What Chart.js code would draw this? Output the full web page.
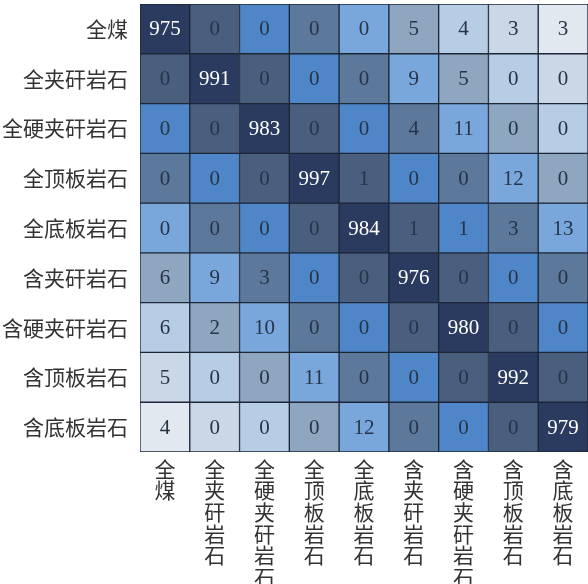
<!DOCTYPE html>
<html>
<head>
<meta charset="utf-8">
<script src="https://cdn.jsdelivr.net/npm/chart.js@4.4.0/dist/chart.umd.min.js"></script>
<style>
    html, body { margin: 0; padding: 0; background: #fff; }
    #wrap { width: 588px; height: 584px; }
</style>
</head>
<body>
<div id="wrap"><canvas id="chart"></canvas></div>
<script>
// categories (rows = true class, columns = predicted class)
var classes = ['全煤', '全夹矸岩石', '全硬夹矸岩石', '全顶板岩石', '全底板岩石',
               '含夹矸岩石', '含硬夹矸岩石', '含顶板岩石', '含底板岩石'];

// confusion matrix counts, one row per class
var row0 = [975, 0, 0, 0, 0, 5, 4, 3, 3];
var row1 = [0, 991, 0, 0, 0, 9, 5, 0, 0];
var row2 = [0, 0, 983, 0, 0, 4, 11, 0, 0];
var row3 = [0, 0, 0, 997, 1, 0, 0, 12, 0];
var row4 = [0, 0, 0, 0, 984, 1, 1, 3, 13];
var row5 = [6, 9, 3, 0, 0, 976, 0, 0, 0];
var row6 = [6, 2, 10, 0, 0, 0, 980, 0, 0];
var row7 = [5, 0, 0, 11, 0, 0, 0, 992, 0];
var row8 = [4, 0, 0, 0, 12, 0, 0, 0, 979];
var counts = [row0, row1, row2, row3, row4, row5, row6, row7, row8];

// cell colour depends on distance from the diagonal
var bandColors = ['#2b3a5f', '#4a5f7e', '#4f86c8', '#5c789b', '#79a7db',
                  '#8fa6c1', '#b7cce5', '#cad7e6', '#e2e8f0'];

var cjkFont = '"Noto Sans CJK SC", sans-serif';
var numFont = '"Liberation Serif", "DejaVu Serif", serif';

var datasets = counts.map(function (row, r) {
    return {
        label: classes[r],
        data: row.map(function () { return [r, r + 1]; }),
        backgroundColor: row.map(function (v, c) { return bandColors[Math.abs(c - r)]; }),
        borderColor: '#1c2738',
        borderWidth: 1,
        borderSkipped: false,
        grouped: false,
        barPercentage: 1,
        categoryPercentage: 1
    };
});

var cellText = {
    id: 'cellText',
    afterDatasetsDraw: function (chart) {
        var ctx = chart.ctx;
        ctx.save();
        ctx.font = '21px ' + numFont;
        ctx.textAlign = 'center';
        ctx.textBaseline = 'middle';
        chart.data.datasets.forEach(function (ds, r) {
            chart.getDatasetMeta(r).data.forEach(function (el, c) {
                ctx.fillStyle = r === c ? '#ffffff' : '#263448';
                ctx.fillText(String(counts[r][c]), el.x, (el.y + el.base) / 2 + 1);
            });
        });
        ctx.restore();
    }
};

new Chart(document.getElementById('chart'), {
    type: 'bar',
    data: {
        labels: classes.map(function (s) { return s.split(''); }),
        datasets: datasets
    },
    options: {
        responsive: true,
        maintainAspectRatio: false,
        animation: false,
        layout: { padding: { top: 4, right: 0, left: 0, bottom: 0 } },
        plugins: {
            legend: { display: false },
            tooltip: { enabled: false }
        },
        scales: {
            x: {
                type: 'category',
                grid: { display: false, drawTicks: false },
                border: { display: false },
                afterFit: function (scale) {
                    scale.height = 132;
                    scale.paddingLeft = 0;
                    scale.paddingRight = 0;
                },
                ticks: {
                    autoSkip: false,
                    maxRotation: 0,
                    minRotation: 0,
                    padding: 6,
                    color: '#333333',
                    font: { family: cjkFont, size: 21, lineHeight: 1.03 }
                }
            },
            y: {
                type: 'linear',
                min: 0,
                max: 9,
                reverse: true,
                grid: { display: false, drawTicks: false },
                border: { display: false },
                afterFit: function (scale) {
                    scale.width = 140;
                    scale.paddingTop = 0;
                    scale.paddingBottom = 0;
                },
                afterBuildTicks: function (scale) {
                    scale.ticks = classes.map(function (s, i) { return { value: i + 0.5 }; });
                },
                ticks: {
                    padding: 12,
                    color: '#333333',
                    font: { family: cjkFont, size: 21 },
                    callback: function (value) { return classes[Math.floor(value)]; }
                }
            }
        }
    },
    plugins: [cellText]
});
</script>
</body>
</html>
